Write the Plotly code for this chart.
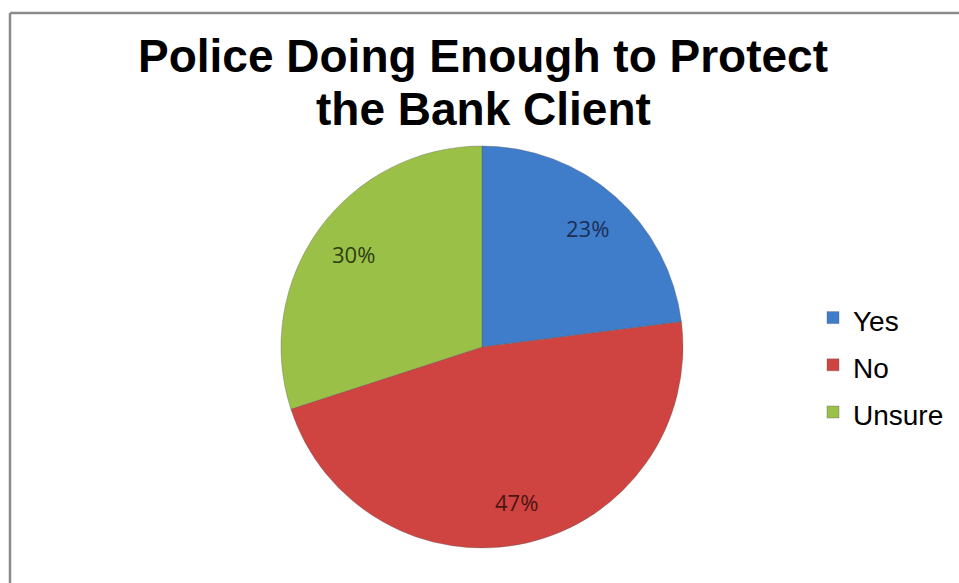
import math
import plotly.graph_objects as go

categories = ["Yes", "No", "Unsure"]
values = [23, 47, 30]
slice_colors = ["#3F7DCA", "#CF4440", "#9BC047"]
label_colors = ["#1B2E55", "#4E1515", "#2E3E14"]
title_lines = ["Police Doing Enough to Protect", "the Bank Client"]

W, H = 959, 583
# pie geometry (pixels)
CX, CY, R = 482, 347, 201
LABEL_R = 0.79

legend_labels = ['<span style="font-size:28px">%s</span>' % c for c in categories]

fig = go.Figure()
fig.add_trace(go.Pie(
    labels=legend_labels,
    values=values,
    sort=False,
    direction="clockwise",
    rotation=0,
    marker=dict(colors=slice_colors, line=dict(color="rgba(90,90,90,0.35)", width=1)),
    textinfo="none",
    hoverinfo="label+percent",
    domain=dict(x=[(CX - R) / W, (CX + R) / W], y=[1 - (CY + R) / H, 1 - (CY - R) / H]),
    showlegend=True,
))

# percentage labels placed at the slice mid-angles (computed from the data)
total = sum(values)
cum = 0
annotations = []
for v, col in zip(values, label_colors):
    mid = (cum + v / 2) / total * 2 * math.pi
    cum += v
    px = CX + LABEL_R * R * math.sin(mid)
    py = CY - LABEL_R * R * math.cos(mid)
    annotations.append(dict(
        x=px / W, y=1 - py / H, xref="paper", yref="paper",
        text="%d%%" % round(100 * v / total), showarrow=False,
        font=dict(family="Open Sans", size=22, color=col),
        xanchor="center", yanchor="middle",
    ))

for line, ly in zip(title_lines, [56, 109]):
    annotations.append(dict(
        x=483 / W, y=1 - ly / H, xref="paper", yref="paper",
        text="<b>" + line + "</b>", showarrow=False,
        font=dict(family="Liberation Sans, Arial", size=46, color="black"),
        xanchor="center", yanchor="middle", align="center",
    ))

fig.update_layout(
    width=W, height=H,
    margin=dict(l=0, r=0, t=0, b=0),
    paper_bgcolor="white",
    plot_bgcolor="white",
    annotations=annotations,
    legend=dict(
        x=813 / W, xanchor="left",
        y=1 - 289 / H, yanchor="top",
        font=dict(family="Liberation Sans, Arial", size=34, color="black"),
        bgcolor="rgba(0,0,0,0)",
    ),
    shapes=[
        dict(type="line", xref="paper", yref="paper",
             x0=10 / W, y0=1 - 13 / H, x1=1.02, y1=1 - 13 / H,
             line=dict(color="#8A8A8A", width=2.5)),
        dict(type="line", xref="paper", yref="paper",
             x0=10 / W, y0=1 - 13 / H, x1=10 / W, y1=-0.02,
             line=dict(color="#8A8A8A", width=2.5)),
    ],
)

fig.write_html("out.html")
